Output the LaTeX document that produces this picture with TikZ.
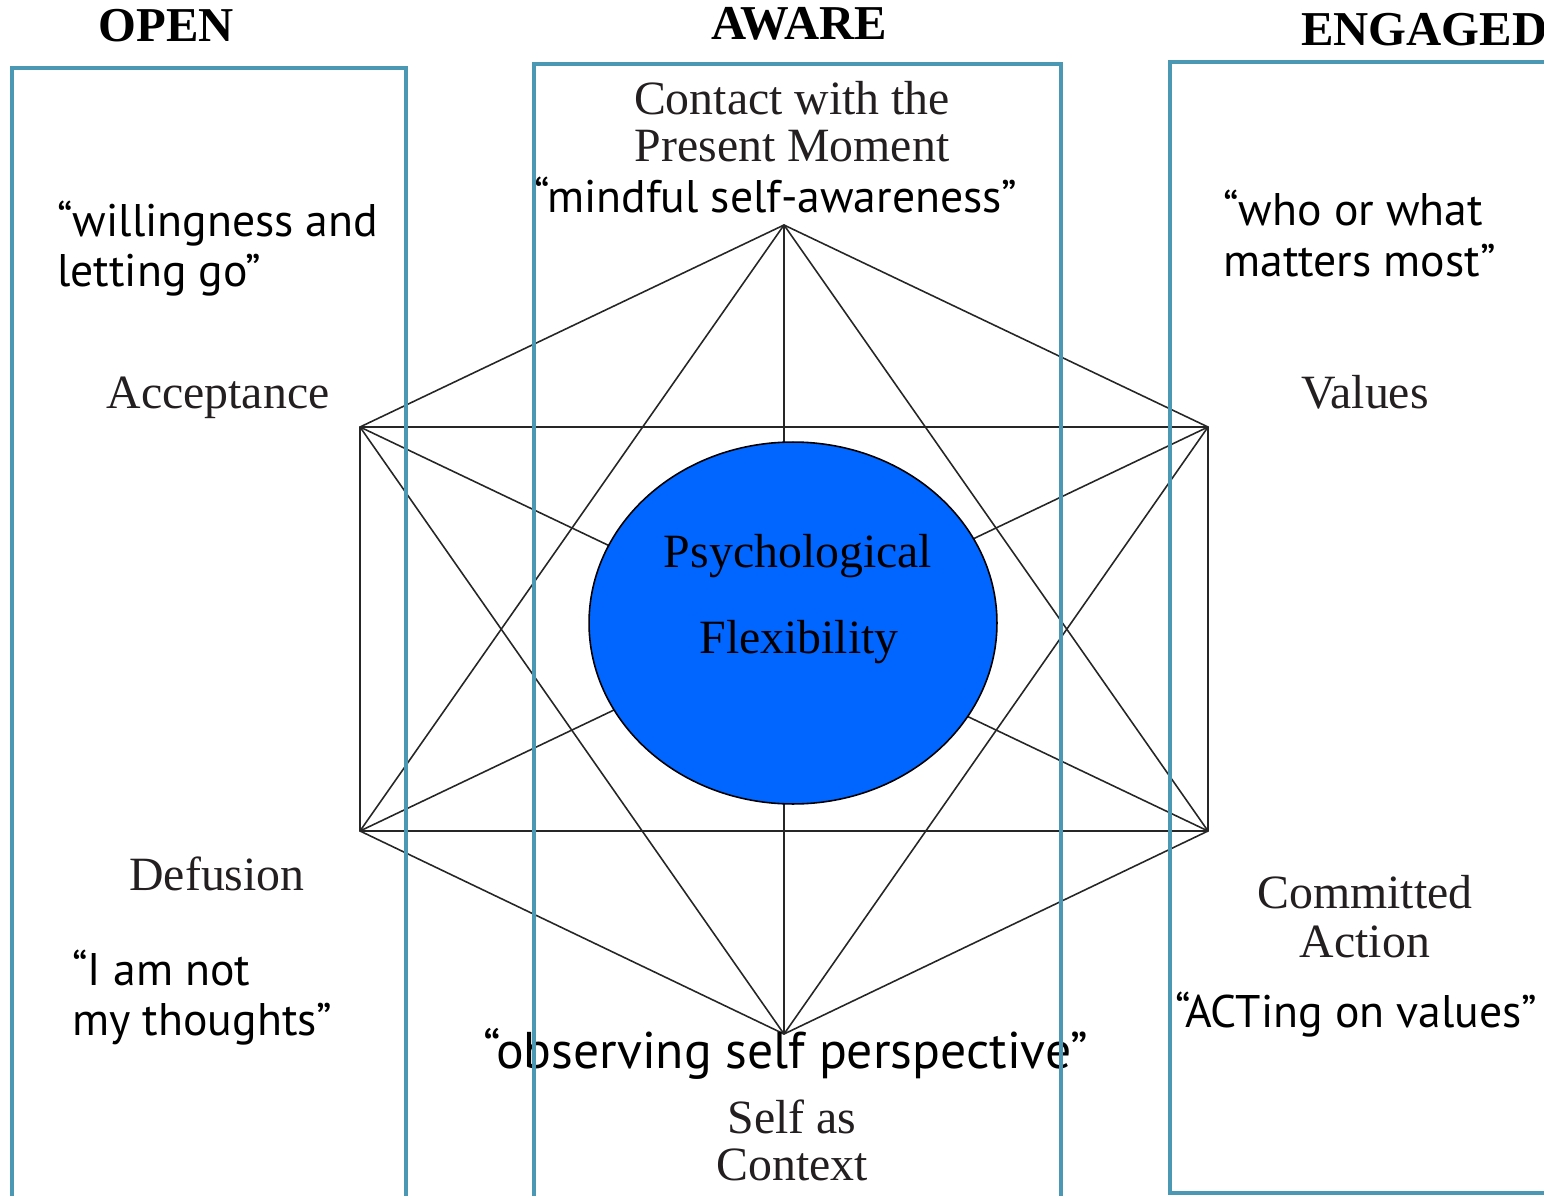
\documentclass[tikz,border=0pt]{standalone}
\usepackage{fontspec}
\setmainfont{Liberation Serif}
\newfontfamily\qfont{PT Sans}
\usetikzlibrary{shapes.geometric}
\definecolor{boxc}{HTML}{4A98B3}
\definecolor{pfblue}{HTML}{0066FF}
\definecolor{lbl}{HTML}{231F20}
\begin{document}
\begin{tikzpicture}[x={(0.02cm,0)},y={(0,-0.02cm)},
  framebox/.style={draw=boxc,line width=2.2pt},
  link/.style={draw=black!85,line width=0.9pt},
  head/.style={font=\fontsize{27.7}{29}\selectfont\bfseries,anchor=base,inner sep=0},
  lab/.style={font=\fontsize{27.2}{28}\selectfont,text=lbl,anchor=base,inner sep=0},
  quote/.style={font=\qfont\fontsize{26}{28.4}\selectfont,anchor=base west,inner sep=0},
]
\useasboundingbox (0,0) rectangle (1544,1196);
\clip (0,0) rectangle (1544,1196);

% hexagon vertices
\coordinate (T) at (784,225);
\coordinate (UL) at (360,427);
\coordinate (UR) at (1208,427);
\coordinate (LL) at (360,831);
\coordinate (LR) at (1208,831);
\coordinate (B) at (784,1034);

\draw[link] (T) -- (UL) -- (LL) -- (B) -- (LR) -- (UR) -- cycle;
\draw[link] (UL) -- (UR);
\draw[link] (LL) -- (LR);
\draw[link] (T) -- (LL);
\draw[link] (T) -- (LR);
\draw[link] (B) -- (UL);
\draw[link] (B) -- (UR);
\draw[link] (T) -- (B);
\draw[link] (UL) -- (LR);
\draw[link] (UR) -- (LL);

\node[ellipse,draw=black,line width=0.9pt,fill=pfblue,minimum width=8.16cm,minimum height=7.24cm,inner sep=0] (pf) at (793,623) {};
\node[lab,font=\fontsize{27.2}{28}\selectfont,text=black] (psy) at (798,567) {Psychological};
\node[lab,font=\fontsize{27.2}{28}\selectfont,text=black] (flex) at (799,653) {Flexibility};

% headings
\node[head] (open) at (166,42) {OPEN};
\node[head] (aware) at (799,40) {AWARE};
\node[head,anchor=base west] (engaged) at (1301,46) {ENGAGED};

% labels
\node[lab] (acc) at (218,408) {Acceptance};
\node[lab] (val) at (1365,408) {Values};
\node[lab] (cont1) at (792,115) {Contact with the};
\node[lab] (cont2) at (792,162) {Present Moment};
\node[lab] (def) at (217,890) {Defusion};
\node[lab] (com1) at (1365,908) {Committed};
\node[lab] (com2) at (1365,957) {Action};
\node[lab] (sac1) at (792,1133) {Self as};
\node[lab] (sac2) at (792,1180) {Context};

% quotes
\node[quote] (q1a) at (57,236) {“willingness and};
\node[quote] (q1b) at (57,286) {letting go”};
\node[quote,anchor=base] (q2) at (776,213) {“mindful self-awareness”};
\node[quote] (q3a) at (1223,226) {“who or what};
\node[quote] (q3b) at (1223,276) {matters most”};
\node[quote] (q4a) at (72,985) {“I am not};
\node[quote] (q4b) at (72,1035) {my thoughts”};
\node[quote] (q5) at (1175,1027) {“ACTing on values”};
\node[quote,anchor=base,font=\qfont\fontsize{29.4}{30}\selectfont] (q6) at (786,1068) {“observing self perspective”};

% frames
\draw[framebox] (12,1200) -- (12,68) -- (406,68) -- (406,1200);
\draw[framebox] (534,1200) -- (534,64) -- (1061,64) -- (1061,1200);
\draw[framebox] (1550,62) -- (1170,62) -- (1170,1193) -- (1550,1193);
\end{tikzpicture}
\end{document}
